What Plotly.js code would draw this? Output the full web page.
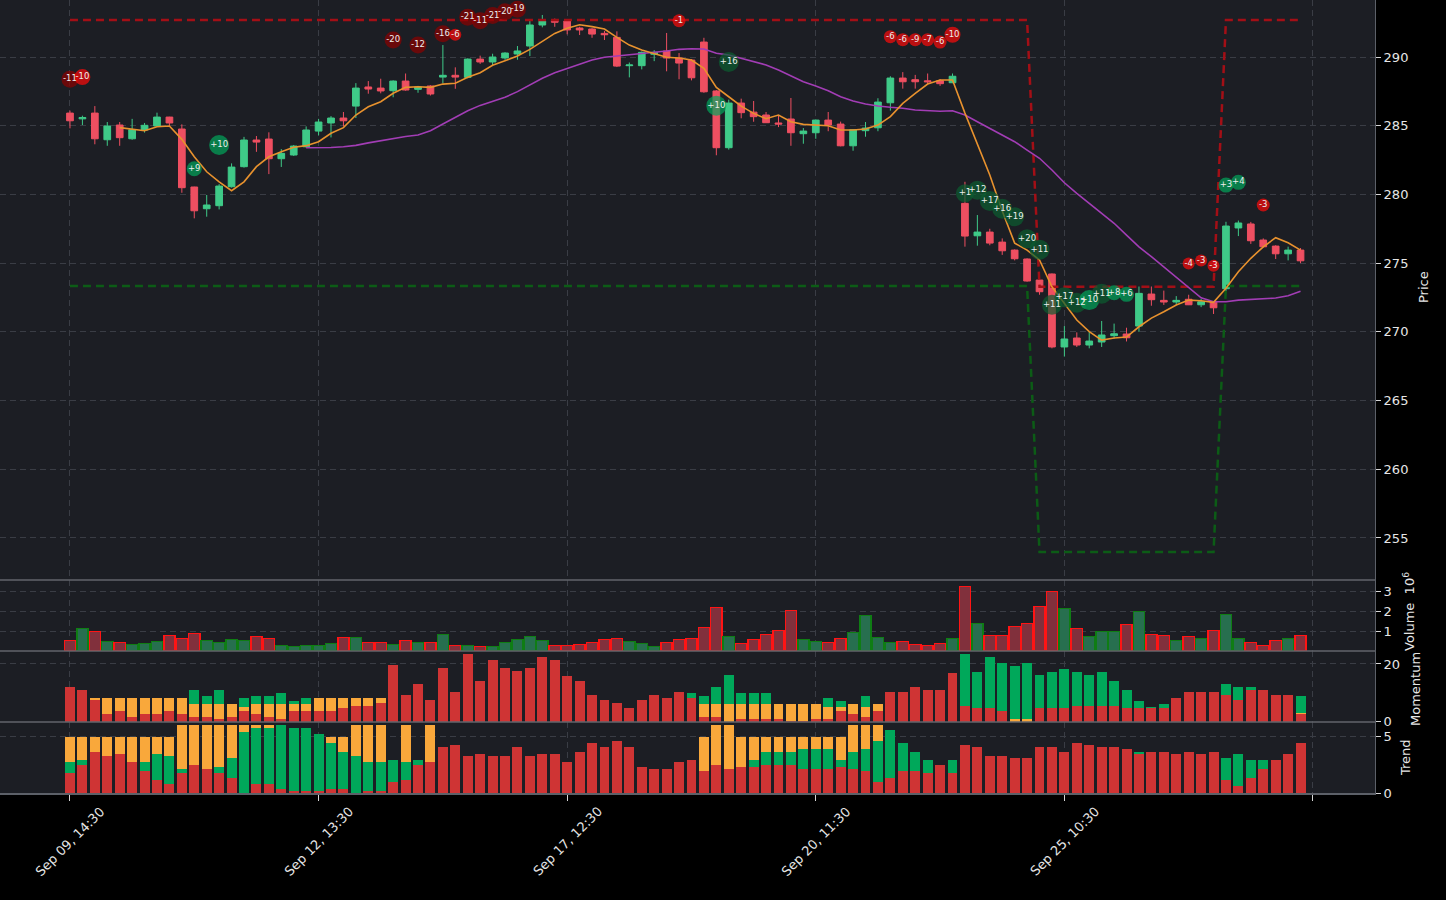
<!DOCTYPE html>
<html><head><meta charset="utf-8">
<script src="https://cdn.plot.ly/plotly-3.0.1.min.js"></script>
<style>html,body{margin:0;padding:0;background:#000;}#chart{width:1446px;height:900px;}</style>
</head><body><div id="chart"></div>
<script>
// ---------- DATA ----------
const tickLabels = ["Sep 09, 14:30","Sep 12, 13:30","Sep 17, 12:30","Sep 20, 11:30","Sep 25, 10:30",""];
const tickIdx = [0,20,40,60,80,100];

const opens = [285.92,285.50,285.92,283.98,285.05,284.05,284.69,284.98,285.63,284.76,
280.54,278.96,279.18,280.56,282.02,283.96,284.03,282.60,282.87,283.47,
284.61,285.20,285.56,286.43,287.82,287.74,287.55,288.25,287.65,287.89,
288.54,288.67,288.52,289.85,289.64,289.93,290.22,290.80,292.33,292.67,
292.62,292.11,292.04,291.72,291.43,289.37,289.37,290.20,290.44,289.93,
289.78,291.09,287.53,283.40,286.65,285.99,285.78,285.20,285.49,284.42,
284.49,285.41,285.12,283.54,284.64,284.85,286.67,288.47,288.35,288.27,
288.28,288.13,279.35,276.99,277.26,276.53,275.95,275.30,273.77,274.21,
268.90,269.55,269.04,269.26,269.72,269.84,270.42,272.75,272.29,272.17,
272.37,271.97,272.19,273.14,277.56,277.85,276.68,276.24,275.68,275.95];
const highs = [286.10,285.73,286.43,285.27,285.27,285.50,285.20,285.95,285.65,285.10,
280.56,279.96,280.75,282.26,284.19,284.25,284.52,283.30,283.60,284.95,
285.50,285.70,286.00,288.10,288.25,288.42,288.30,288.80,287.90,287.95,
290.87,289.25,289.90,290.10,290.24,290.35,290.80,292.74,293.06,292.80,
292.70,292.20,292.10,291.90,291.87,289.60,290.40,290.50,291.75,290.29,
289.85,291.40,287.60,286.90,286.97,286.80,286.00,285.78,287.02,284.83,
285.45,286.00,285.30,284.75,285.27,287.00,288.60,288.90,288.70,288.80,
288.40,288.80,280.92,278.50,277.50,276.80,276.00,275.35,273.80,274.25,
270.42,269.96,270.00,270.79,270.60,270.30,273.30,273.30,273.00,272.60,
272.70,272.40,272.22,278.01,278.10,278.00,276.80,276.30,276.20,276.10];
const lows = [284.81,285.05,283.65,283.54,283.54,283.98,284.50,284.95,284.98,280.12,
278.26,278.38,278.91,280.50,281.95,283.10,281.48,282.00,282.80,283.40,
284.30,284.15,284.95,285.56,287.33,287.36,287.07,287.55,287.40,287.20,
288.08,287.69,288.45,289.50,289.40,289.80,289.80,290.07,292.16,292.20,
291.65,291.60,291.40,291.24,289.27,288.52,289.10,289.70,288.96,288.38,
288.30,287.40,282.85,283.26,285.54,285.29,285.20,284.90,283.54,283.69,
284.05,284.60,283.50,283.18,284.20,284.60,286.10,287.70,287.70,288.00,
287.90,288.10,276.20,276.27,276.30,275.60,275.20,273.65,272.70,268.80,
268.20,268.90,268.80,268.90,269.50,269.30,270.00,271.90,271.96,271.97,
271.95,271.80,271.30,272.92,276.97,276.40,276.15,275.30,275.20,275.00];
const closes = [285.36,285.60,284.05,284.98,284.13,284.71,285.03,285.63,285.20,280.49,
278.81,279.23,280.61,281.99,283.96,283.81,282.60,282.99,283.52,284.69,
285.27,285.56,285.36,287.74,287.67,287.53,288.25,287.60,287.82,287.31,
288.67,288.54,289.85,289.64,290.00,290.29,290.44,292.33,292.62,292.53,
291.97,291.97,291.67,291.62,289.34,289.42,290.34,290.34,289.93,289.56,
288.49,287.47,283.40,286.65,285.95,285.66,285.22,285.12,284.49,284.61,
285.41,285.05,283.54,284.71,284.83,286.72,288.47,288.20,288.20,288.20,
288.06,288.60,276.97,277.26,276.46,275.90,275.32,273.70,272.92,268.90,
269.48,269.04,269.33,269.77,269.86,269.57,272.80,272.34,272.17,272.29,
271.97,272.19,271.75,277.70,277.92,276.63,276.19,275.68,275.95,275.17];

const maFast = [null,null,null,null,284.86,284.74,284.64,284.93,284.98,284.01,
282.74,281.65,280.92,280.27,280.92,282.02,282.74,283.11,283.43,283.55,
283.84,284.45,284.86,285.78,286.38,286.75,287.36,287.79,287.84,287.79,
288.03,288.09,288.52,288.86,289.40,289.73,290.07,290.56,291.11,291.72,
292.09,292.35,292.21,292.04,291.43,290.87,290.51,290.27,289.98,289.93,
289.78,289.18,287.79,287.11,286.43,285.90,285.51,285.78,285.29,285.10,
285.03,285.00,284.69,284.69,284.76,285.05,285.66,286.63,287.36,288.03,
288.33,288.33,285.92,283.60,281.41,278.79,276.46,275.95,275.23,273.28,
272.10,270.86,270.01,269.40,269.55,269.62,270.37,271.00,271.46,271.95,
272.31,272.26,272.15,273.17,274.37,275.35,276.19,276.85,276.48,275.95];
const maSlow = [null,null,null,null,null,null,null,null,null,null,
null,null,null,null,null,null,null,null,null,283.40,
283.40,283.42,283.47,283.57,283.75,283.92,284.10,284.22,284.32,284.64,
285.12,285.61,286.09,286.48,286.75,287.07,287.48,287.96,288.45,288.86,
289.18,289.49,289.78,289.98,290.07,290.15,290.22,290.31,290.44,290.56,
290.60,290.58,290.27,290.15,289.91,289.66,289.42,289.05,288.62,288.20,
287.89,287.55,287.11,286.80,286.58,286.43,286.34,286.27,286.14,286.07,
286.05,286.09,285.78,285.29,284.81,284.32,283.84,283.23,282.63,281.78,
280.85,280.08,279.35,278.62,277.90,277.04,276.19,275.47,274.74,274.01,
273.28,272.48,272.19,272.19,272.31,272.36,272.41,272.46,272.63,272.95];

const resistance = [292.69,292.69,292.69,292.69,292.69,292.69,292.69,292.69,292.69,292.69,
292.69,292.69,292.69,292.69,292.69,292.69,292.69,292.69,292.69,292.69,
292.69,292.69,292.69,292.69,292.69,292.69,292.69,292.69,292.69,292.69,
292.69,292.69,292.69,292.69,292.69,292.69,292.69,292.69,292.69,292.69,
292.69,292.69,292.69,292.69,292.69,292.69,292.69,292.69,292.69,292.69,
292.69,292.69,292.69,292.69,292.69,292.69,292.69,292.69,292.69,292.69,
292.69,292.69,292.69,292.69,292.69,292.69,292.69,292.69,292.69,292.69,
292.69,292.69,292.69,292.69,292.69,292.69,292.69,292.69,273.28,273.28,
273.28,273.28,273.28,273.28,273.28,273.28,273.28,273.28,273.28,273.28,
273.28,273.28,273.28,292.69,292.69,292.69,292.69,292.69,292.69,292.69];
const support = [273.33,273.33,273.33,273.33,273.33,273.33,273.33,273.33,273.33,273.33,
273.33,273.33,273.33,273.33,273.33,273.33,273.33,273.33,273.33,273.33,
273.33,273.33,273.33,273.33,273.33,273.33,273.33,273.33,273.33,273.33,
273.33,273.33,273.33,273.33,273.33,273.33,273.33,273.33,273.33,273.33,
273.33,273.33,273.33,273.33,273.33,273.33,273.33,273.33,273.33,273.33,
273.33,273.33,273.33,273.33,273.33,273.33,273.33,273.33,273.33,273.33,
273.33,273.33,273.33,273.33,273.33,273.33,273.33,273.33,273.33,273.33,
273.33,273.33,273.33,273.33,273.33,273.33,273.33,273.33,253.97,253.97,
253.97,253.97,253.97,253.97,253.97,253.97,253.97,253.97,253.97,253.97,
253.97,253.97,253.97,273.33,273.33,273.33,273.33,273.33,273.33,273.33];

// volume in millions
const volume = [0.53,1.13,0.98,0.48,0.43,0.33,0.38,0.48,0.78,0.63,
0.88,0.53,0.43,0.58,0.53,0.73,0.63,0.28,0.23,0.28,
0.28,0.38,0.68,0.68,0.43,0.43,0.33,0.53,0.43,0.43,
0.83,0.28,0.28,0.23,0.23,0.43,0.58,0.73,0.53,0.28,
0.28,0.33,0.43,0.58,0.63,0.48,0.38,0.23,0.43,0.58,
0.63,1.18,2.18,0.73,0.38,0.58,0.83,1.03,2.03,0.58,
0.48,0.43,0.63,0.93,1.78,0.68,0.43,0.48,0.33,0.28,
0.38,0.63,3.23,1.38,0.78,0.78,1.23,1.38,2.23,2.98,
2.13,1.13,0.73,0.98,0.98,1.33,1.98,0.83,0.78,0.53,
0.73,0.63,1.03,1.83,0.63,0.43,0.28,0.53,0.63,0.78];

const momRed = [12.0,11.0,7.5,2.66,3.7,1.6,2.66,2.66,3.7,2.66,
1.6,1.6,0.9,1.6,3.7,2.66,1.6,0.9,3.7,3.7,
3.7,3.7,4.7,5.4,5.4,6.5,19.6,9.2,13.1,7.5,
18.6,10.3,23.5,14.1,21.4,18.6,17.6,18.6,22.4,21.4,
15.8,14.1,9.2,7.5,6.5,4.7,7.5,9.2,8.2,10.3,
8.2,1.6,1.6,0,0.9,0.9,0.9,0.9,0.2,0.2,
0.9,0.9,3.7,2.66,1.6,3.7,10.3,10.3,12.0,11.0,
11.0,16.9,5.3,4.7,4.7,3.7,0,0,4.7,4.7,
4.7,5.4,5.4,5.4,5.4,4.7,4.7,4.7,4.7,8.2,
10.3,10.3,10.3,9.2,7.5,11.0,11.0,9.2,9.2,2.66];
const momOrange = [0,0,0.7,5.5,4.5,6.6,5.5,5.5,4.5,5.5,
4.5,4.5,5.2,4.5,1.4,3.5,4.5,5.2,2.4,2.4,
4.5,4.5,3.5,2.8,2.8,1.7,0,0,0,0,
0,0,0,0,0,0,0,0,0,0,
0,0,0,0,0,0,0,0,0,0,
0,4.5,4.5,6.1,5.2,5.2,5.2,5.2,5.9,5.9,
5.2,4.2,1.4,3.5,3.5,2.4,0,0,0,0,
0,0,0,0,0,0,0.9,0.9,0,0,
0,0,0,0,0,0,0,0,0,0,
0,0,0,0,0,0,0,0,0,0.35];
const momGreen = [0,0,0,0,0,0,0,0,0,0,
4.85,2.8,4.85,0,3.1,2.8,2.8,3.8,1.1,2.1,
0,0,0,0,0,0,0,0,0,0,
0,0,0,0,0,0,0,0,0,0,
0,0,0,0,0,0,0,0,0,0,
1.7,2.8,5.9,10.1,3.8,3.8,3.8,0,0,0,
0,3.1,2.1,0,3.8,0,0,0,0,0,
0,0,18.2,12.5,17.7,16.6,18.4,19.4,11.5,12.5,
13.6,11.8,10.8,11.8,8.7,6.3,2.5,0.4,1.4,0,
0,0,0,3.9,4.5,1.0,0,0,0,5.9];

const trendRed = [1.80,2.51,3.67,3.31,3.49,2.78,1.98,1.18,0.83,1.80,
2.51,2.16,1.80,1.36,0,0.83,0.83,0.38,0.2,0.2,
0.2,0.38,0.38,0,0.2,0.2,1.0,1.18,2.51,2.78,
4.11,4.29,3.31,3.49,3.31,3.31,4.11,3.31,3.49,3.49,
2.78,3.67,4.47,4.11,4.64,4.11,2.34,2.16,2.16,2.78,
2.96,1.98,2.51,2.16,2.34,2.34,2.51,2.51,2.51,2.16,
2.16,2.16,2.34,2.16,1.98,1.0,1.36,1.98,1.98,1.80,
2.51,1.80,4.29,4.11,3.31,3.31,3.14,3.14,4.11,4.11,
3.67,4.47,4.29,4.11,4.11,3.93,3.49,3.67,3.67,3.49,
3.67,3.49,3.67,1.18,0.65,1.36,2.16,2.96,3.49,4.47];
const trendGreen = [0.95,0.45,0,0,0,0,0.8,2.31,2.48,0.36,
0,0,0.54,1.78,5.44,4.97,4.97,5.69,5.6,5.6,
5.07,4.09,3.29,3.31,2.58,2.58,1.96,1.6,0.45,0,
0,0,0,0,0,0,0,0,0,0,
0,0,0,0,0,0,0,0,0,0,
0,0,0,0,0,0.62,1.16,1.16,1.16,1.77,
1.77,1.77,0.62,1.51,1.95,3.64,4.26,2.49,1.69,1.16,
0,1.16,0,0,0,0,0,0,0,0,
0,0,0,0,0,0,0.18,0,0,0,
0,0,0,1.96,2.84,1.6,0.8,0,0,0];
const trendOrange = [2.25,2.04,1.33,1.69,1.51,2.22,2.22,1.51,1.69,3.91,
3.56,3.91,3.73,2.93,0.63,0.27,0.27,0,0,0,
0,0.53,1.33,2.76,3.29,3.29,0,3.29,0,3.29,
0,0,0,0,0,0,0,0,0,0,
0,0,0,0,0,0,0,0,0,0,
0,3.02,3.56,3.91,2.66,2.04,1.33,1.33,1.33,1.07,
1.07,1.07,2.04,2.4,2.14,1.43,0,0,0,0,
0,0,0,0,0,0,0,0,0,0,
0,0,0,0,0,0,0,0,0,0,
0,0,0,0,0,0,0,0,0,0];

// signal markers: bar index, price level, score
const sigIdx = [0,1,10,12,26,28,30,31,32,33,34,35,36,49,52,53,66,67,68,69,70,71,72,73,74,75,76,77,78,79,80,81,82,83,84,85,90,91,92,93,94,96];
const sigPrice = [288.38,288.54,281.87,283.60,291.24,290.87,291.70,291.62,292.89,292.64,293.03,293.30,293.47,292.64,286.46,289.64,291.48,291.26,291.26,291.26,291.09,291.62,280.08,280.30,279.52,278.96,278.38,276.78,275.98,271.97,272.51,272.12,272.31,272.77,272.85,272.73,274.98,275.20,274.81,280.68,280.88,279.23];
const sigScore = [-11,-10,9,10,-20,-12,-16,-6,-21,-11,-21,-20,-19,-1,10,16,-6,-6,-9,-7,-6,-10,1,12,17,16,19,20,11,11,17,12,10,11,8,6,-4,-3,-3,3,4,-3];

// ---------- STYLE ----------
const sigSize = [17,16,15,20,17,17,17,12,17,17,17,17,17,13,20,20,13,13,13,13,13,16,18,19,20,20,19,19,20,20,20,20,20,20,15,15,12,12,12,15,15,13];
const sigDark = [1,0,0,0,1,1,1,0,1,1,1,1,1,0,0,1,0,0,0,0,0,0,1,1,1,1,1,1,1,1,1,1,0,1,0,0,0,0,0,0,0,0];
const upCol = '#3fca88', downCol = '#ee4f61';
const redBar = '#cf3434', orangeBar = '#f9a83b', greenBar = '#00a85a';
const gridCol = '#3a3d45', axisCol = '#5c6068';
const font = 'DejaVu Sans, sans-serif';
const tickFont = {family: font, size: 13, color: '#e6e6e6'};

const idx = closes.map((_, i) => i);
const isUp = closes.map((c, i) => c >= opens[i]);

const traces = [];
traces.push({type:'candlestick', x: idx, open: opens, high: highs, low: lows, close: closes,
  xaxis:'x', yaxis:'y', hoverinfo:'skip',
  increasing:{line:{color:upCol, width:1}, fillcolor:upCol},
  decreasing:{line:{color:downCol, width:1}, fillcolor:downCol}});
traces.push({type:'scatter', mode:'lines', x: idx, y: resistance, xaxis:'x', yaxis:'y',
  line:{color:'#a30f16', width:2.5, dash:'8px,5px'}, hoverinfo:'skip'});
traces.push({type:'scatter', mode:'lines', x: idx, y: support, xaxis:'x', yaxis:'y',
  line:{color:'#0c5c16', width:2.5, dash:'8px,5px'}, hoverinfo:'skip'});
traces.push({type:'scatter', mode:'lines', x: idx, y: maSlow, xaxis:'x', yaxis:'y',
  line:{color:'#a23db5', width:1.6}, hoverinfo:'skip'});
traces.push({type:'scatter', mode:'lines', x: idx, y: maFast, xaxis:'x', yaxis:'y',
  line:{color:'#e8922e', width:1.6}, hoverinfo:'skip'});
traces.push({type:'scatter', mode:'markers+text', x: sigIdx, y: sigPrice, xaxis:'x', yaxis:'y',
  text: sigScore.map(s => (s > 0 ? '+' + s : String(s))), textposition:'middle center',
  textfont:{family: font, size: 8.5, color:'#eeeeee'},
  marker:{size: sigSize, line:{width:0},
    color: sigScore.map((s, k) => s < 0 ? (sigDark[k] ? '#8b0000' : '#ff0a0a') : (sigDark[k] ? '#0b5c31' : '#02a55b'))},
  hoverinfo:'skip'});

traces.push({type:'bar', x: idx, y: volume, xaxis:'x', yaxis:'y2', width:0.9,
  marker:{color: isUp.map(u => u ? '#276f4f' : '#81303c'),
          line:{color: isUp.map(u => u ? '#0f7d14' : '#ff1414'), width:1.5}}, hoverinfo:'skip'});

traces.push({type:'bar', x: idx, y: momRed, xaxis:'x', yaxis:'y3', width:0.8, marker:{color: redBar, line:{width:0}}, hoverinfo:'skip'});
traces.push({type:'bar', x: idx, y: momOrange, xaxis:'x', yaxis:'y3', width:0.8, marker:{color: orangeBar, line:{width:0}}, hoverinfo:'skip'});
traces.push({type:'bar', x: idx, y: momGreen, xaxis:'x', yaxis:'y3', width:0.8, marker:{color: greenBar, line:{width:0}}, hoverinfo:'skip'});

traces.push({type:'bar', x: idx, y: trendRed, xaxis:'x', yaxis:'y4', width:0.8, marker:{color: redBar, line:{width:0}}, hoverinfo:'skip'});
traces.push({type:'bar', x: idx, y: trendGreen, xaxis:'x', yaxis:'y4', width:0.8, marker:{color: greenBar, line:{width:0}}, hoverinfo:'skip'});
traces.push({type:'bar', x: idx, y: trendOrange, xaxis:'x', yaxis:'y4', width:0.8, marker:{color: orangeBar, line:{width:0}}, hoverinfo:'skip'});

const H = 793;
const dPrice = [(H - 580) / H, 1];
const dVol = [(H - 651) / H, (H - 580) / H];
const dMom = [(H - 722) / H, (H - 651) / H];
const dTrend = [0, (H - 722) / H];

const yBase = {side:'right', anchor:'x', showgrid:true, gridcolor:gridCol, griddash:'6px,4px', gridwidth:1,
  zeroline:false, showline:true, linecolor:axisCol, linewidth:1, ticks:'outside', ticklen:5,
  tickcolor:'#d8d8d8', tickfont:tickFont, fixedrange:true};

const annotations = [];
tickIdx.forEach((t, k) => {
  if (!tickLabels[k]) return;
  annotations.push({xref:'x', yref:'paper', x: t, y: 1 - 841 / H,
    text: tickLabels[k], showarrow:false, textangle:-45, xanchor:'center', yanchor:'middle', font: tickFont});
});
const W = 1375;
annotations.push({xref:'paper', yref:'paper', x: 1423 / W, y: 1 - 287 / H, text:'Price', textangle:-90, showarrow:false, font:tickFont, xanchor:'center', yanchor:'middle'});
annotations.push({xref:'paper', yref:'paper', x: 1409 / W, y: 1 - 612 / H, text:'Volume  10<sup>6</sup>', textangle:-90, showarrow:false, font:tickFont, xanchor:'center', yanchor:'middle'});
annotations.push({xref:'paper', yref:'paper', x: 1415 / W, y: 1 - 689 / H, text:'Momentum', textangle:-90, showarrow:false, font:tickFont, xanchor:'center', yanchor:'middle'});
annotations.push({xref:'paper', yref:'paper', x: 1405 / W, y: 1 - 758 / H, text:'Trend', textangle:-90, showarrow:false, font:tickFont, xanchor:'center', yanchor:'middle'});

const sepLine = y => ({type:'line', xref:'paper', yref:'paper', x0:0, x1:1, y0:y, y1:y, line:{color:'#62656b', width:1.5}, layer:'above'});

const layout = {
  width:1446, height:900, margin:{l:0, r:71, t:0, b:107},
  paper_bgcolor:'#000000', plot_bgcolor:'#1c1e24',
  showlegend:false, barmode:'stack', boxgap:0.23, hovermode:false,
  font:{family: font, color:'#e6e6e6'},
  xaxis:{range:[-5.63, 104.99], anchor:'y4', tickvals: tickIdx, ticktext: tickLabels, showticklabels:false,
    ticks:'outside', ticklen:6, tickcolor:'#d8d8d8', showgrid:true, gridcolor:gridCol, griddash:'6px,4px',
    zeroline:false, showline:true, linecolor:axisCol, linewidth:1.5, rangeslider:{visible:false}, fixedrange:true},
  yaxis: Object.assign({}, yBase, {domain: dPrice, range:[251.94, 294.15], tickvals:[255,260,265,270,275,280,285,290]}),
  yaxis2: Object.assign({}, yBase, {domain: dVol, range:[0, 3.55], tickvals:[1,2,3]}),
  yaxis3: Object.assign({}, yBase, {domain: dMom, range:[-0.1, 24.5], tickvals:[0,20]}),
  yaxis4: Object.assign({}, yBase, {domain: dTrend, range:[0, 6.3], tickvals:[0,5]}),
  shapes:[sepLine(dPrice[0]), sepLine(dVol[0]), sepLine(dMom[0])],
  annotations: annotations
};

Plotly.newPlot('chart', traces, layout, {displayModeBar:false, staticPlot:true});
</script>
</body></html>
